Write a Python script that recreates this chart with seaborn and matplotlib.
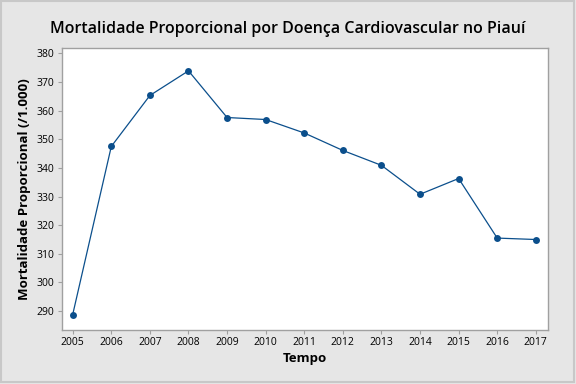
import numpy as np
import pandas as pd
import matplotlib
matplotlib.use('Agg')
import matplotlib.pyplot as plt
import seaborn as sns
from matplotlib.patches import Rectangle

anos = [2005, 2006, 2007, 2008, 2009, 2010, 2011, 2012, 2013, 2014, 2015, 2016, 2017]
mortalidade = [288.8, 347.5, 365.3, 373.9, 357.6, 356.9, 352.2, 346.1, 340.9, 330.8, 336.3, 315.5, 315.0]
yticks = [290, 300, 310, 320, 330, 340, 350, 360, 370, 380]

df = pd.DataFrame({'Tempo': anos, 'Mortalidade': mortalidade})

sns.set_style('white')
plt.rcParams['font.family'] = ['Open Sans', 'DejaVu Sans']
plt.rcParams['text.color'] = 'black'
plt.rcParams['axes.labelcolor'] = 'black'

bg = '#e6e6e6'
grey = '#a0a0a0'
fig = plt.figure(figsize=(5.76, 3.84), dpi=100, facecolor=bg)
ax = fig.add_axes([0.1068, 0.1406, 0.951 - 0.1068, 0.8737 - 0.1406])

sns.lineplot(data=df, x='Tempo', y='Mortalidade', ax=ax, color='#0b4f8c',
             linewidth=0.9, marker='o', markersize=5, markeredgewidth=0)

ax.set_xlim(2004.71, 2017.31)
ax.set_ylim(283.4, 381.7)
ax.set_xticks(anos)
ax.set_yticks(yticks)
ax.tick_params(axis='both', direction='out', length=3, width=0.8, color=grey,
               labelcolor='black', labelsize=7.5, pad=2, bottom=True, left=True)
for s in ax.spines.values():
    s.set_color(grey)
    s.set_linewidth(1)

ax.set_xlabel('Tempo', fontsize=9.5, fontweight='bold', labelpad=3)
ax.set_ylabel('Mortalidade Proporcional (/1.000)', fontsize=9.5, fontweight='bold', labelpad=4)
fig.suptitle('Mortalidade Proporcional por Doença Cardiovascular no Piauí',
             fontsize=11.5, fontweight='semibold', y=0.945, color='black')

fig.patches.append(Rectangle((0.002, 0.004), 0.994, 0.993, transform=fig.transFigure,
                             fill=False, edgecolor='#c8c8c8', linewidth=1.5))

fig.savefig('out.png', dpi=100, facecolor=bg)
